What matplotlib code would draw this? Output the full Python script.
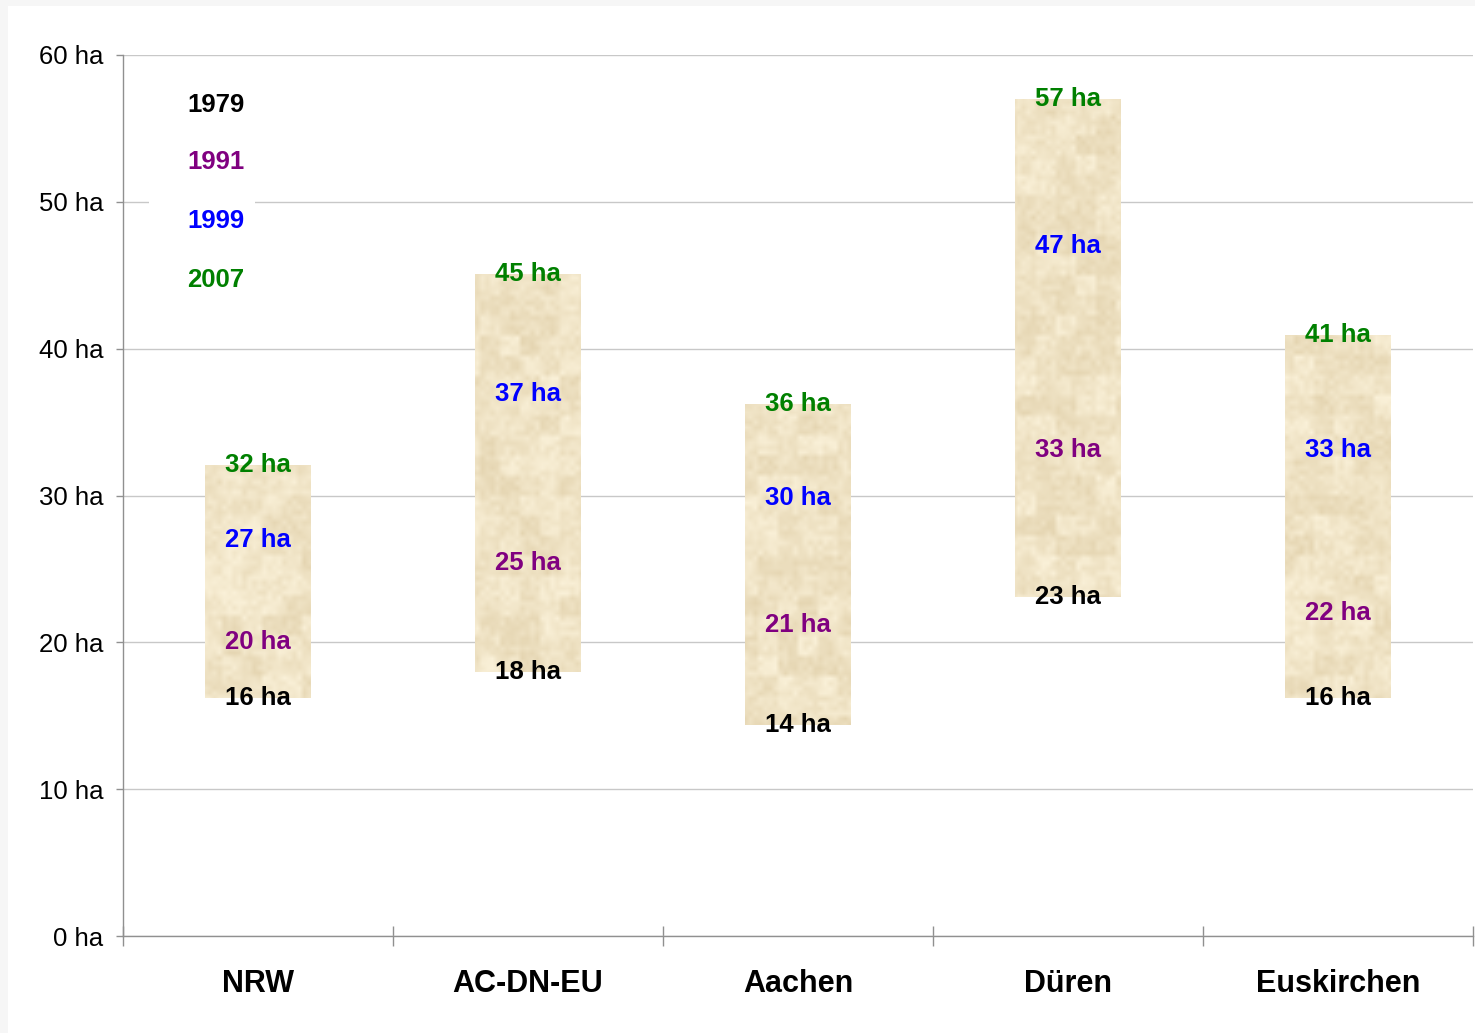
import numpy as np
import matplotlib
matplotlib.use('Agg')
from matplotlib import pyplot as plt
from matplotlib.patches import Rectangle

plt.rcParams['font.family'] = ['Liberation Sans', 'DejaVu Sans']

# data
regions = ['NRW', 'AC-DN-EU', 'Aachen', 'Düren', 'Euskirchen']
years = ['1979', '1991', '1999', '2007']
v1979 = [16.2, 18.0, 14.4, 23.1, 16.2]
v1991 = [20.0, 25.4, 21.2, 33.1, 22.0]
v1999 = [27.0, 36.9, 29.8, 47.0, 33.1]
v2007 = [32.1, 45.1, 36.2, 57.0, 40.9]
yticks = [0, 10, 20, 30, 40, 50, 60]

series = [v1979, v1991, v1999, v2007]
colors = ['#000000', '#800080', '#0000ff', '#008000']

fig = plt.figure(figsize=(14.75, 10.33), dpi=100)
fig.patch.set_facecolor('#f6f6f6')
fig.add_artist(Rectangle((8 / 1475, 0), 1 - 8 / 1475, 1 - 6 / 1033,
                         transform=fig.transFigure, facecolor='white',
                         edgecolor='none', zorder=-10))
ax = fig.add_axes([123 / 1475, 97 / 1033, 1350 / 1475, 881 / 1033])
ax.set_facecolor('none')

x = np.arange(len(regions))
lows = np.array(v1979)
highs = np.array(v2007)


def hashnoise(nr, nc, a, b, c):
    ii, jj = np.meshgrid(np.arange(nc), np.arange(nr))
    return (np.sin(ii * a + jj * b) * c) % 1.0


# papyrus-like texture (deterministic), fine cells + coarse blotches
fine = hashnoise(176, 272, 12.9898, 78.233, 43758.5453)
coarse = hashnoise(44, 68, 39.346, 11.135, 24634.6345)
coarse = np.kron(coarse, np.ones((4, 4)))
tex = 0.45 * fine + 0.55 * coarse
c_dark = np.array([228, 212, 176]) / 255.0
c_light = np.array([251, 242, 218]) / 255.0
img = c_dark[None, None, :] + (c_light - c_dark)[None, None, :] * tex[:, :, None]

bars = ax.bar(x, highs - lows, bottom=lows, width=0.39, color='#eee0c0',
              edgecolor='none', zorder=2)
for b in bars:
    im = ax.imshow(img, extent=(-0.5, 4.5, 0, 60), aspect='auto',
                   interpolation='bilinear', zorder=3)
    im.set_clip_path(b)

# data labels
for vals, col in zip(series, colors):
    for xi, v in zip(x, vals):
        ax.text(xi, v, '%d ha' % round(v), color=col, ha='center',
                va='center', fontsize=18.5, fontweight='bold', zorder=5)

ax.set_xlim(-0.5, 4.5)
ax.set_ylim(0, 60)
ax.set_yticks(yticks)
ax.set_yticklabels(['%d ha' % t for t in yticks], fontsize=18.5)
ax.set_xticks(x)
ax.set_xticklabels(regions, fontsize=22, fontweight='bold')
ax.set_xticks(np.arange(-0.5, 5.0, 1.0), minor=True)
ax.tick_params(axis='x', which='major', length=0, pad=24)
ax.tick_params(axis='x', which='minor', direction='inout', length=14.4,
               color='#909090', width=1)
ax.tick_params(axis='y', direction='out', length=5, color='#909090',
               width=1, pad=9)
ax.grid(axis='y', color='#c8c8c8', linewidth=1, zorder=0)
ax.set_axisbelow(True)
for s in ['top', 'right']:
    ax.spines[s].set_visible(False)
for s in ['left', 'bottom']:
    ax.spines[s].set_color('#909090')
    ax.spines[s].set_linewidth(1)

# legend
ax.add_patch(Rectangle((0.019, 0.716), 0.079, 0.259, transform=ax.transAxes,
                       facecolor='white', edgecolor='none', zorder=4))
leg_y = [0.943, 0.878, 0.812, 0.745]
for yr, col, ly in zip(years, colors, leg_y):
    ax.text(0.069, ly, yr, color=col, transform=ax.transAxes, ha='center',
            va='center', fontsize=18.5, fontweight='bold', zorder=5)

fig.savefig('out.png', dpi=100)
